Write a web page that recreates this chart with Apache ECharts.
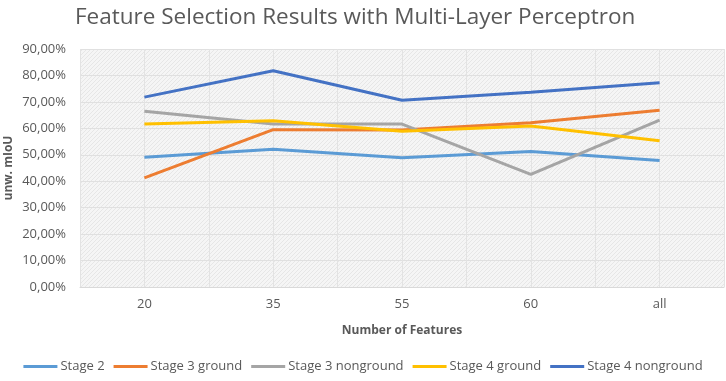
<!DOCTYPE html>
<html>
<head>
<meta charset="utf-8">
<script src="https://cdn.jsdelivr.net/npm/echarts@6/dist/echarts.min.js"></script>
<style>html,body{margin:0;padding:0;background:#fff}#c{width:726px;height:381px}</style>
</head>
<body>
<div id="c"></div>
<script>
const categories = ['20', '35', '55', '60', 'all'];
const seriesNames = ['Stage 2', 'Stage 3 ground', 'Stage 3 nonground', 'Stage 4 ground', 'Stage 4 nonground'];
const stage2 = [49.1, 52.1, 48.9, 51.2, 47.8];
const stage3ground = [41.3, 59.5, 59.4, 62.1, 66.8];
const stage3nonground = [66.5, 61.6, 61.6, 42.6, 63.1];
const stage4ground = [61.6, 62.9, 58.9, 60.9, 55.3];
const stage4nonground = [71.8, 81.8, 70.6, 73.6, 77.2];
const colors = ['#5B9BD5', '#ED7D31', '#A5A5A5', '#FFC000', '#4472C4'];

const pat = document.createElement('canvas');
pat.width = 4; pat.height = 4;
const g = pat.getContext('2d');
g.fillStyle = '#f5f5f5'; g.fillRect(0, 0, 4, 4);
g.fillStyle = '#e6e6e6';
for (let i = 0; i < 4; i++) g.fillRect(i, 3 - i, 1, 1);

const allData = [stage2, stage3ground, stage3nonground, stage4ground, stage4nonground];
const font = '"Open Sans", "Noto Sans", sans-serif';
const chart = echarts.init(document.getElementById('c'), null, {renderer: 'canvas'});
chart.setOption({
  animation: false,
  textStyle: {fontFamily: font},
  title: {
    text: 'Feature Selection Results with Multi-Layer Perceptron',
    left: 70, top: 1,
    textStyle: {fontFamily: font, fontSize: 22.5, fontWeight: 'normal', color: '#595959'}
  },
  grid: {
    left: 80, right: 2, top: 49, bottom: 94, show: true, borderWidth: 0,
    containLabel: false, outerBoundsMode: 'none',
    backgroundColor: {image: pat, repeat: 'repeat'}
  },
  legend: {
    bottom: 3, left: 'center', itemWidth: 34, itemHeight: 3, itemGap: 9,
    icon: 'rect',
    textStyle: {fontSize: 13, color: '#595959', fontFamily: font, padding: [0, 0, 0, -2]},
    data: seriesNames
  },
  xAxis: [{
    type: 'category', data: categories, boundaryGap: true,
    name: 'Number of Features', nameLocation: 'middle', nameGap: 38, nameMoveOverlap: false,
    nameTextStyle: {fontSize: 12, fontWeight: 'bold', color: '#595959', fontFamily: font},
    axisLine: {show: true, lineStyle: {color: '#d9d9d9', width: 1}},
    axisTick: {show: false},
    axisLabel: {fontSize: 13, color: '#595959', margin: 11},
    splitLine: {show: false}
  }, {
    type: 'value', min: 0, max: 10, interval: 1, position: 'bottom',
    axisLine: {show: false}, axisTick: {show: false}, axisLabel: {show: false},
    splitLine: {show: true, lineStyle: {color: '#e3e3e3', width: 1}}
  }],
  yAxis: {
    type: 'value', min: 0, max: 90, interval: 10,
    name: 'unw. mIoU', nameLocation: 'middle', nameGap: 65, nameMoveOverlap: false,
    nameTextStyle: {fontSize: 12, fontWeight: 'bold', color: '#595959', fontFamily: font},
    axisLine: {show: false}, axisTick: {show: false},
    axisLabel: {fontSize: 13, color: '#595959', margin: 14,
      formatter: v => v.toFixed(2).replace('.', ',') + '%'},
    splitLine: {lineStyle: {color: '#e0e0e0', width: 1}}
  },
  series: allData.map((d, i) => ({
    name: seriesNames[i], type: 'line', data: d, xAxisIndex: 0,
    symbol: 'none', lineStyle: {width: 3, color: colors[i]}, itemStyle: {color: colors[i]}
  }))
});
</script>
</body>
</html>
